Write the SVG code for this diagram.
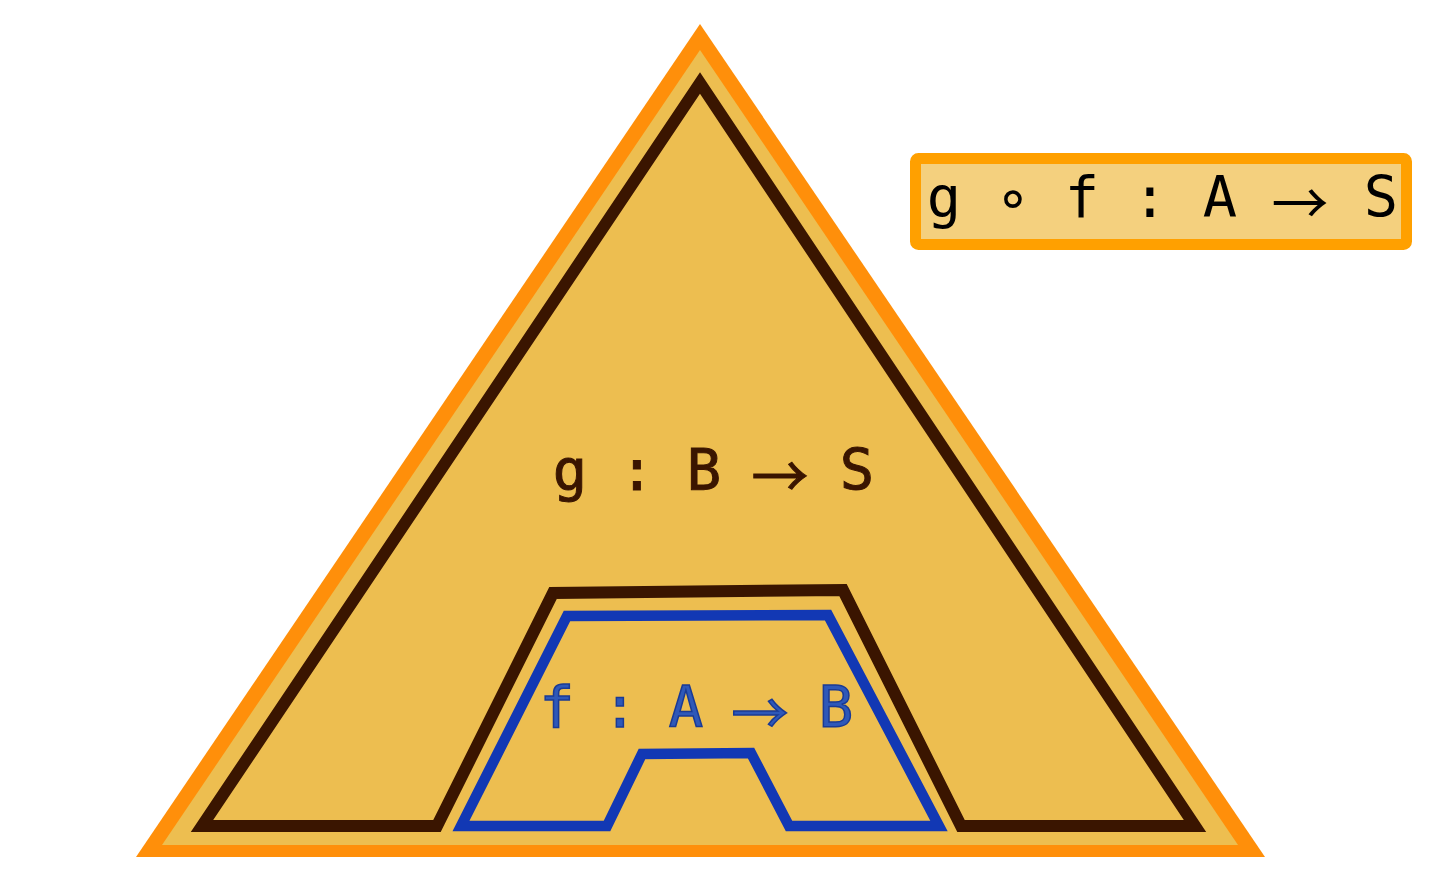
<svg xmlns="http://www.w3.org/2000/svg" width="1450" height="871" viewBox="0 0 1450 871">
<style>
.mono{font-family:"DejaVu Sans Mono","Liberation Mono",monospace;font-size:57px;text-anchor:middle}
.arr{font-family:"Noto Sans CJK SC","DejaVu Sans",sans-serif}
.brown{fill:#3A1500;stroke:#3A1500;stroke-width:1}
.blue{fill:#2E58B8;stroke:#1A3A94;stroke-width:1.5}
.black{fill:#000}
</style>
<rect width="1450" height="871" fill="#fff"/>
<g id="outer-triangle">
<polygon points="700,24 136,857 1265,857" fill="#FF8F0A"/>
<polygon points="700,50 162,845 1238,845" fill="#EDBE50"/>
</g>
<g id="g-shape">
<polygon points="202,826 437,826 553,593 843,590 961,826 1195,826 700,83" fill="none" stroke="#3A1500" stroke-width="12" stroke-linejoin="miter"/>
<text class="mono brown" x="570 603 637 670 704 742" y="490">g : B <tspan class="arr" x="780" y="497">→</tspan><tspan x="818 857" y="490"> S</tspan></text>
</g>
<g id="f-shape">
<polygon points="461,826 607,826 642,754 751,753 789,826 939,826 828,615 567,616" fill="none" stroke="#1238B4" stroke-width="10.5" stroke-linejoin="miter"/>
<text class="mono blue" x="557 588 620 653 686 723" y="727">f : A <tspan class="arr" x="760" y="734">→</tspan><tspan x="798 836" y="727"> B</tspan></text>
</g>
<g id="composite-label">
<rect x="915.5" y="158.5" width="491" height="86" rx="3" fill="#F4D07E" stroke="#FFA000" stroke-width="11"/>
<text class="mono black" x="944 978 1013 1047 1082 1116 1150 1185 1220 1260" y="217">g ∘ f : A <tspan class="arr" x="1300" y="224">→</tspan><tspan x="1340 1381" y="217"> S</tspan></text>
</g>
</svg>
